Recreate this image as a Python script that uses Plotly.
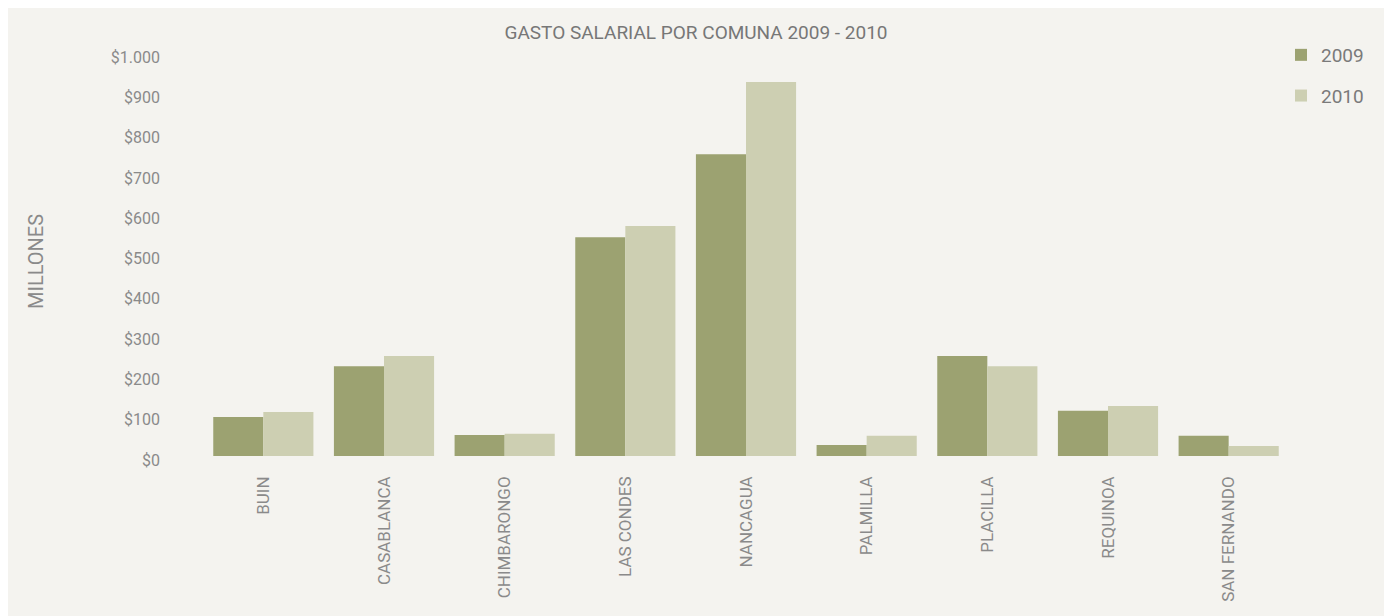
import plotly.graph_objects as go

comunas = ["BUIN", "CASABLANCA", "CHIMBARONGO", "LAS CONDES", "NANCAGUA",
           "PALMILLA", "PLACILLA", "REQUINOA", "SAN FERNANDO"]
gasto_2009 = [97, 223, 52, 543, 749, 27, 248, 112, 50]
gasto_2010 = [109, 248, 55, 571, 928, 50, 223, 124, 25]
y_ticks = [0, 100, 200, 300, 400, 500, 600, 700, 800, 900, 1000]
y_tick_labels = ["$0", "$100", "$200", "$300", "$400", "$500", "$600",
                 "$700", "$800", "$900", "$1.000"]

OFF = 8  # the page body margin offsets the figure
W, H = 1392 - OFF, 616 - OFF
L, T = 203 - OFF, 53 - OFF
plot_right, plot_bottom = 1289 - OFF, 456 - OFF
R, B = W - plot_right, H - plot_bottom
pw, ph = W - L - R, H - T - B

def px_x(p):  # page pixel -> paper x
    return (p - OFF - L) / pw

def px_y(p):  # page pixel -> paper y
    return (H - B - (p - OFF)) / ph

BG = "#f4f3ef"
C2009 = "#9ca271"
C2010 = "#cdcfb2"
TXT = "#8a8a8a"
FONT = "Roboto"

fig = go.Figure()
fig.add_trace(go.Bar(name="2009", x=comunas, y=gasto_2009, marker_color=C2009,
                     marker_line_width=0, legendgroup="a"))
fig.add_trace(go.Bar(name="2010", x=comunas, y=gasto_2010, marker_color=C2010,
                     marker_line_width=0, legendgroup="b"))

fig.add_shape(type="rect", xref="paper", yref="paper",
              x0=px_x(-20), x1=px_x(1387), y0=px_y(700), y1=px_y(5),
              fillcolor=BG, line_width=0, layer="below")

fig.update_layout(
    width=W, height=H,
    margin=dict(l=L, r=R, t=T, b=B, autoexpand=False),
    paper_bgcolor="white", plot_bgcolor=BG,
    barmode="group", bargap=0.17, bargroupgap=0,
    font=dict(family=FONT, color=TXT, size=16),
    title=dict(text="GASTO SALARIAL POR COMUNA 2009 - 2010",
               x=px_x(696), xref="paper", xanchor="center",
               y=1 - (32 - OFF) / H, yanchor="middle",
               font=dict(family=FONT, size=19, color="#777777")),
    xaxis=dict(tickangle=-90, showgrid=False, showline=False, zeroline=False,
               ticks="", ticklabelstandoff=16,
               tickfont=dict(family=FONT, size=17, color=TXT)),
    yaxis=dict(range=[0, 1000], tickvals=y_ticks, ticktext=y_tick_labels,
               showgrid=False, zeroline=False, showline=False, ticks="",
               ticklabelstandoff=42, ticklabelshift=4,
               tickfont=dict(family=FONT, size=16, color=TXT)),
    legend=dict(x=px_x(1281), y=px_y(36), xanchor="left", yanchor="top",
                bgcolor="rgba(0,0,0,0)", tracegroupgap=13,
                font=dict(family=FONT, size=19, color="#7a7a7a"),
                traceorder="grouped"),
)

fig.add_annotation(text="MILLONES", textangle=-90, xref="paper", yref="paper",
                   x=px_x(36), y=px_y(262), xanchor="center", yanchor="middle",
                   showarrow=False,
                   font=dict(family=FONT, size=20, color=TXT))

fig.write_html("out.html")
